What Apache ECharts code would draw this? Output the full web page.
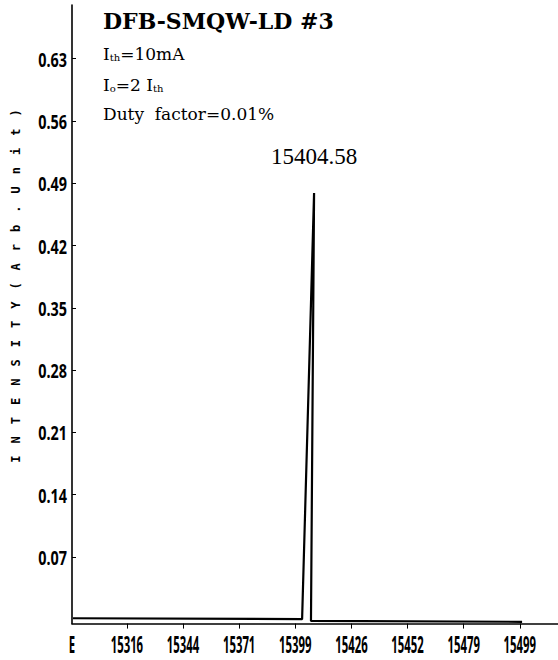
<!DOCTYPE html>
<html><head><meta charset="utf-8">
<script src="https://cdn.jsdelivr.net/npm/echarts@6/dist/echarts.min.js"></script>
<style>
html,body{margin:0;padding:0;background:#fff}
#c{width:558px;height:660px}
#c text[style*="Mono"]{letter-spacing:12px}
</style>
</head><body><div id="c"></div>
<script>
// ---- data ----
const wavelength = [15289.9, 15400.9, 15406.7, 15405.2, 15507.5];
const intensity  = [0.001, 0.000, 0.479, -0.002, -0.003];
const peakIndex = 2;
const peakLabel = '15404.58';
const xTickValues = [15316, 15343.2, 15370.4, 15397.6, 15424.8, 15452.0, 15479.2, 15506.4];
const xTickLabels = ['15316','15344','15371','15399','15426','15452','15479','15499'];
const xOriginLabel = 'E';
const yTickValues = [0.07, 0.14, 0.21, 0.28, 0.35, 0.42, 0.49, 0.56, 0.63];
const yTickLabels = ['0.07','0.14','0.21','0.28','0.35','0.42','0.49','0.56','0.63'];
const titleText = 'DFB-SMQW-LD #3';
const yAxisTitle = 'INTENSITY(Arb.Unit)';
// each line: pieces of [text, style] where style 'm' = normal, 's' = subscript
const infoLine1 = [['I','m'],['th','s'],['=10mA','m']];
const infoLine2 = [['I','m'],['o','s'],['=2 ','m'],['I','m'],['th','s']];
const infoLine3 = [['Duty  factor=0.01%','m']];
// ---- chart ----
const X_MIN = 15289.4, X_MAX = 15524.9, Y_MIN = -0.005, Y_MAX = 0.6904;
const chart = echarts.init(document.getElementById('c'), null, {renderer:'svg'});
const xLabelVals = [X_MIN].concat(xTickValues);
const xLabelTexts = [xOriginLabel].concat(xTickLabels);
function richLine(pieces){
  return pieces.map(p => '{' + p[1] + '|' + p[0] + '}').join('');
}
const infoLines = [infoLine1, infoLine2, infoLine3];
const infoY = [53, 83.5, 112.5];
const graphics = [
  {type:'text', x:103, y:20.5, style:{text:titleText, font:'bold 22px "DejaVu Serif"', fill:'#000', verticalAlign:'middle'}},
  {type:'text', x:16, y:280, rotation:Math.PI/2, style:{text:yAxisTitle, font:'bold 12px "DejaVu Sans Mono"', fill:'#000', align:'center', verticalAlign:'middle'}}
];
infoLines.forEach((pieces,i)=>{
  graphics.push({type:'text', x:103, y:infoY[i], style:{
    text: richLine(pieces), verticalAlign:'middle', fill:'#000',
    font:'17px "DejaVu Serif"',
    rich:{
      m:{fontFamily:'DejaVu Serif', fontSize:17, color:'#000', verticalAlign:'bottom', lineHeight:19},
      s:{fontFamily:'DejaVu Serif', fontSize:10, color:'#000', verticalAlign:'bottom', lineHeight:10}
    }
  }});
});
const seriesData = wavelength.map((x,i)=> i === peakIndex ? {
  value:[x, intensity[i]],
  label:{show:true, formatter:peakLabel, position:'top', distance:25, color:'#000',
         fontFamily:'"Liberation Serif","Times New Roman",serif', fontSize:23}
} : [x, intensity[i]]);
chart.setOption({
  backgroundColor:'#fff',
  animation:false,
  grid:{left:72, right:0, top:5, bottom:36.4, containLabel:false},
  xAxis:{type:'value', min:X_MIN, max:X_MAX,
    axisLine:{show:true, onZero:false, lineStyle:{color:'#000', width:1.6}},
    axisTick:{show:true, inside:false, length:5, customValues:xTickValues, lineStyle:{color:'#000', width:1}},
    axisLabel:{customValues:xLabelVals, margin:9, color:'#000', fontFamily:'"Open Sans",sans-serif', fontWeight:'bold', fontSize:18,
      showMinLabel:true, showMaxLabel:true, hideOverlap:false,
      formatter:(v)=>{ let best=0; xLabelVals.forEach((t,i)=>{ if(Math.abs(t-v)<Math.abs(xLabelVals[best]-v)) best=i; }); return xLabelTexts[best]; }},
    splitLine:{show:false}},
  yAxis:{type:'value', min:Y_MIN, max:Y_MAX,
    axisLine:{show:true, onZero:false, lineStyle:{color:'#000', width:1.6}},
    axisTick:{show:true, inside:true, length:4, customValues:yTickValues, lineStyle:{color:'#000', width:1}},
    axisLabel:{customValues:yTickValues, margin:5, color:'#000', fontFamily:'"Noto Sans",sans-serif', fontWeight:'bold', fontSize:20,
      showMinLabel:true, showMaxLabel:true, hideOverlap:false,
      formatter:(v)=>{ let best=0; yTickValues.forEach((t,i)=>{ if(Math.abs(t-v)<Math.abs(yTickValues[best]-v)) best=i; }); return yTickLabels[best]; }},
    splitLine:{show:false}},
  series:[{type:'line', data:seriesData, symbol:'circle', symbolSize:0, showSymbol:true, smooth:false,
    lineStyle:{color:'#000', width:2.2}, itemStyle:{color:'#000'}, z:3}],
  graphic: graphics
});
// condense the tick-label glyphs horizontally (the reference uses a tall narrow typeface)
function condense(){
  document.querySelectorAll('#c svg text').forEach(t=>{
    if (t.getAttribute('data-cond')) return;
    const st = t.getAttribute('style') || '';
    let sc = null;
    if (st.indexOf('Open Sans') >= 0) sc = '0.63,1.28';
    else if (st.indexOf('Noto Sans') >= 0) sc = '0.72,1';
    if (!sc) return;
    const tr = t.getAttribute('transform') || '';
    t.setAttribute('transform', tr + ' scale(' + sc + ')');
    t.setAttribute('data-cond','1');
  });
}
condense();
chart.on('finished', condense);
</script></body></html>
